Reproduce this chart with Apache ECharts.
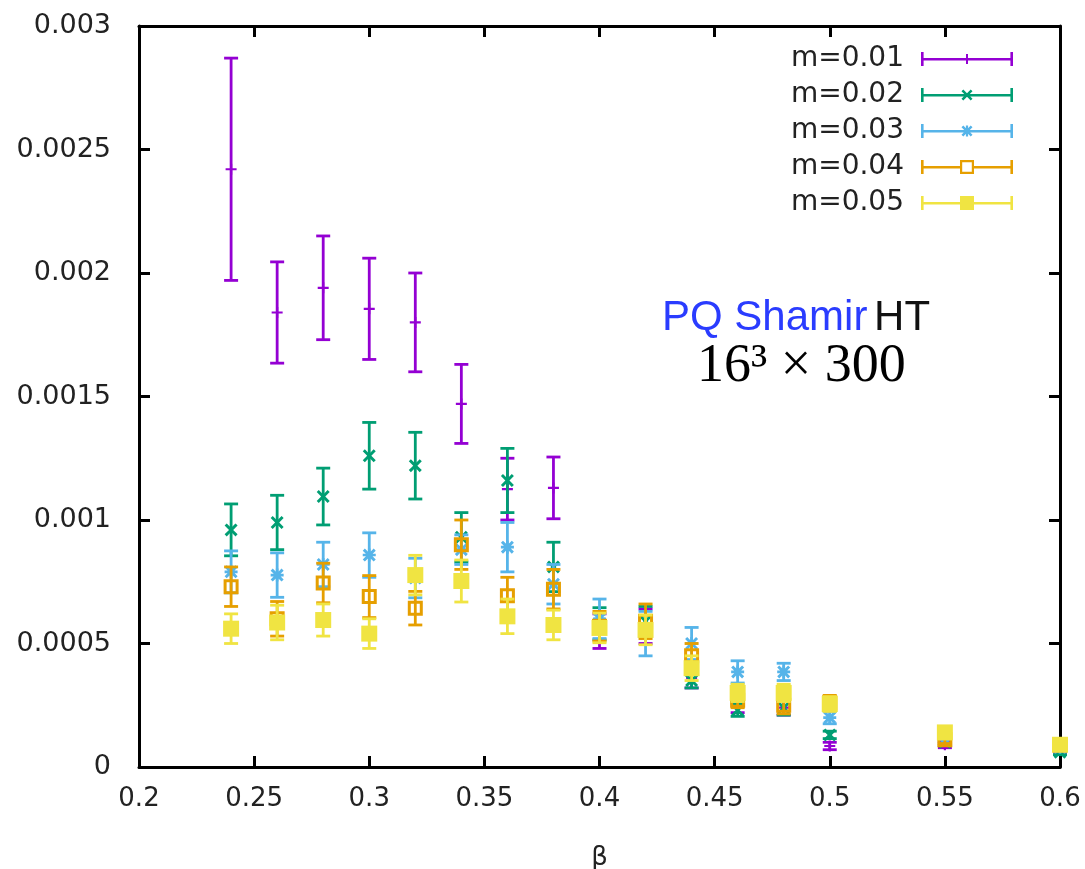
<!DOCTYPE html>
<html>
<head>
<meta charset="utf-8">
<script src="https://cdn.jsdelivr.net/npm/echarts@6/dist/echarts.min.js"></script>
<style>html,body{margin:0;padding:0;background:#fff}#c{width:1085px;height:869px}</style>
</head>
<body>
<div id="c"></div>
<script>
// ---- data ----
const beta = [0.24, 0.26, 0.28, 0.30, 0.32, 0.34, 0.36, 0.38, 0.40, 0.42, 0.44, 0.46, 0.48, 0.50, 0.55, 0.60];
const seriesNames = ['m=0.01', 'm=0.02', 'm=0.03', 'm=0.04', 'm=0.05'];
const m01 = [0.00242, 0.00184, 0.00194, 0.001855, 0.00180, 0.00147, 0.001125, 0.00113, 0.00055, 0.00057, 0.00036, 0.00025, 0.00024, 0.000085, 0.00009, 0.00007];
const m01err = [0.00045, 0.000205, 0.00021, 0.000205, 0.0002, 0.00016, 0.000125, 0.000125, 0.00007, 0.00007, 0.00004, 0.00003, 0.00003, 0.000015, 0.000012, 0.00001];
const m02 = [0.00096, 0.00099, 0.001095, 0.00126, 0.00122, 0.00093, 0.00116, 0.00081, 0.00058, 0.00059, 0.00035, 0.00023, 0.00024, 0.00013, 0.0001, 0.00006];
const m02err = [0.000105, 0.00011, 0.000115, 0.000135, 0.000135, 0.0001, 0.00013, 0.0001, 0.000065, 0.00006, 0.00003, 0.000025, 0.00003, 0.000015, 0.000012, 0.00001];
const m03 = [0.00079, 0.000777, 0.00082, 0.000858, 0.000765, 0.00088, 0.00089, 0.00074, 0.0006, 0.00054, 0.0005, 0.000385, 0.000385, 0.0002, 0.00011, 0.00008];
const m03err = [0.000085, 0.00009, 0.00009, 0.00009, 0.00008, 0.00006, 0.0001, 0.00008, 0.00008, 0.00009, 0.000065, 0.000045, 0.000035, 0.000025, 0.000015, 0.00001];
const m04 = [0.00073, 0.0006, 0.000745, 0.00069, 0.000643, 0.0009, 0.000693, 0.00072, 0.00057, 0.00059, 0.00045, 0.00027, 0.00025, 0.00026, 0.00011, 0.00009];
const m04err = [0.00008, 0.00007, 0.00008, 0.000085, 0.000068, 0.0001, 0.000075, 0.00008, 0.00006, 0.00007, 0.00005, 0.00003, 0.000035, 0.00003, 0.000015, 0.000015];
const m05 = [0.00056, 0.000585, 0.000595, 0.00054, 0.000777, 0.000753, 0.00061, 0.000575, 0.000563, 0.000555, 0.0004, 0.0003, 0.0003, 0.000255, 0.00014, 0.00009];
const m05err = [0.00006, 0.00007, 0.000065, 0.00006, 0.00008, 0.000085, 0.00007, 0.00006, 0.00006, 0.00006, 0.00005, 0.000035, 0.000035, 0.00003, 0.000015, 0.000015];
const xTicks = [0.2, 0.25, 0.3, 0.35, 0.4, 0.45, 0.5, 0.55, 0.6];
const yTicks = [0, 0.0005, 0.001, 0.0015, 0.002, 0.0025, 0.003];

// ---- styles ----
const colors = ['#9400d3', '#009e73', '#56b4e9', '#e69f00', '#f0e442'];
const values = [m01, m02, m03, m04, m05];
const errors = [m01err, m02err, m03err, m04err, m05err];

const P_PLUS = 'M4,0h2v4h4v2h-4v4h-2v-4h-4v-2h4z';
const P_X = 'M0,1.6L1.6,0L5,3.4L8.4,0L10,1.6L6.6,5L10,8.4L8.4,10L5,6.6L1.6,10L0,8.4L3.4,5Z';
const symbols = [
  'path://' + P_PLUS,
  'path://' + P_X,
  'path://' + P_PLUS + P_X,
  'path://M0,0H10V10H0Z M2,2V8H8V2Z',
  'rect'
];
const symbolSizes = [11, 13, 13, 15, 16];

function shift(path, dx, dy, s) {
  return path.replace(/([MLHVhvml])([^MLHVhvmlZz]*)/g, function (m, cmd, args) {
    const nums = args.split(/[ ,]+|(?=-)/).filter(t => t !== '').map(Number);
    let out = [];
    if (cmd === 'M' || cmd === 'L') {
      for (let i = 0; i < nums.length; i += 2) out.push((nums[i] * s + dx).toFixed(2), (nums[i + 1] * s + dy).toFixed(2));
      return cmd + out.join(',');
    }
    if (cmd === 'H') return 'H' + (nums[0] * s + dx).toFixed(2);
    if (cmd === 'V') return 'V' + (nums[0] * s + dy).toFixed(2);
    return cmd + nums.map(n => (n * s).toFixed(2)).join(',');
  });
}
const BAR = 'M0,6H92V8.4H0Z M0,0H2.6V14H0Z M89.4,0H92V14H89.4Z';
const BAR_SPLIT = 'M0,6H39V8.4H0Z M53,6H92V8.4H53Z M0,0H2.6V14H0Z M89.4,0H92V14H89.4Z';
const legendIcons = [
  'path://' + BAR + shift(P_PLUS, 41, 2, 1),
  'path://' + BAR + shift(P_X, 40.5, 1.5, 1.1),
  'path://' + BAR + shift(P_PLUS + P_X, 40.5, 1.5, 1.1),
  'path://' + BAR_SPLIT + 'M39,0H53V14H39Z M41.2,2.2V11.8H50.8V2.2Z',
  'path://' + BAR + 'M39,0H53V14H39Z'
];

const series = [];
seriesNames.forEach(function (name, k) {
  const data = beta.map((b, i) => [b, values[k][i], errors[k][i]]);
  series.push({
    name: name,
    type: 'custom',
    z: 2 + k * 2,
    silent: true,
    data: data,
    renderItem: function (params, api) {
      const x = api.value(0), y = api.value(1), e = api.value(2);
      const top = api.coord([x, y + e]);
      const bot = api.coord([x, y - e]);
      const hw = 7;
      const st = { stroke: colors[k], lineWidth: 2.8, fill: null };
      return {
        type: 'group',
        children: [
          { type: 'line', shape: { x1: top[0], y1: top[1], x2: bot[0], y2: bot[1] }, style: st },
          { type: 'line', shape: { x1: top[0] - hw, y1: top[1], x2: top[0] + hw, y2: top[1] }, style: st },
          { type: 'line', shape: { x1: bot[0] - hw, y1: bot[1], x2: bot[0] + hw, y2: bot[1] }, style: st }
        ]
      };
    }
  });
  series.push({
    name: name,
    type: 'scatter',
    z: 3 + k * 2,
    symbol: symbols[k],
    symbolSize: symbolSizes[k],
    itemStyle: { color: colors[k], opacity: 1 },
    emphasis: { disabled: true },
    data: data.map(d => [d[0], d[1]])
  });
});

const fmt = v => (Math.abs(v) < 1e-12 ? '0' : String(+v.toPrecision(4)));
const axisCommon = {
  axisLine: { show: true, onZero: false, lineStyle: { color: '#000', width: 3 } },
  axisTick: { show: true, inside: true, length: 11, lineStyle: { color: '#000', width: 3 } },
  splitLine: { show: false }
};
const FONT = 'DejaVu Sans';

const option = {
  animation: false,
  backgroundColor: '#fff',
  grid: { left: 139, right: 25, top: 26, bottom: 102, containLabel: false, outerBoundsMode: 'none' },
  xAxis: [
    Object.assign({
      type: 'value', min: xTicks[0], max: xTicks[xTicks.length - 1], interval: 0.05, position: 'bottom',
      name: 'β', nameLocation: 'middle', nameGap: 78,
      nameTextStyle: { fontFamily: FONT, fontSize: 26, color: '#222' },
      axisLabel: { margin: 19, fontFamily: FONT, fontSize: 26, color: '#222', formatter: fmt }
    }, axisCommon),
    Object.assign({
      type: 'value', min: xTicks[0], max: xTicks[xTicks.length - 1], interval: 0.05, position: 'top',
      axisLabel: { show: false }
    }, axisCommon)
  ],
  yAxis: [
    Object.assign({
      type: 'value', min: yTicks[0], max: yTicks[yTicks.length - 1], interval: 0.0005, position: 'left',
      axisLabel: { margin: 28, fontFamily: FONT, fontSize: 27, color: '#222', formatter: fmt }
    }, axisCommon),
    Object.assign({
      type: 'value', min: yTicks[0], max: yTicks[yTicks.length - 1], interval: 0.0005, position: 'right',
      axisLabel: { show: false }
    }, axisCommon)
  ],
  legend: {
    orient: 'vertical',
    right: 67,
    top: 40,
    align: 'right',
    itemWidth: 92,
    itemHeight: 14,
    itemGap: 8,
    selectedMode: false,
    textStyle: { fontFamily: FONT, fontSize: 28, color: '#222', padding: [0, 12, 0, 0], lineHeight: 28 },
    data: seriesNames.map((n, k) => ({ name: n, icon: legendIcons[k], itemStyle: { color: colors[k], borderWidth: 0 } }))
  },
  graphic: [
    {
      type: 'text', left: 662, top: 297, z: 100,
      style: {
        text: '{a|PQ Shamir}  {b|HT}',
        rich: {
          a: { fontFamily: 'Liberation Sans', fontSize: 42, fill: '#2a3cff' },
          b: { fontFamily: 'Liberation Sans', fontSize: 42, fill: '#111' }
        }
      }
    },
    {
      type: 'text', left: 697, top: 340, z: 100,
      style: { text: '16³ × 300', fontFamily: 'Liberation Serif', fontSize: 54, fill: '#000' }
    }
  ],
  series: series
};

const chart = echarts.init(document.getElementById('c'), null, { renderer: 'canvas' });
chart.setOption(option);
</script>
</body>
</html>
